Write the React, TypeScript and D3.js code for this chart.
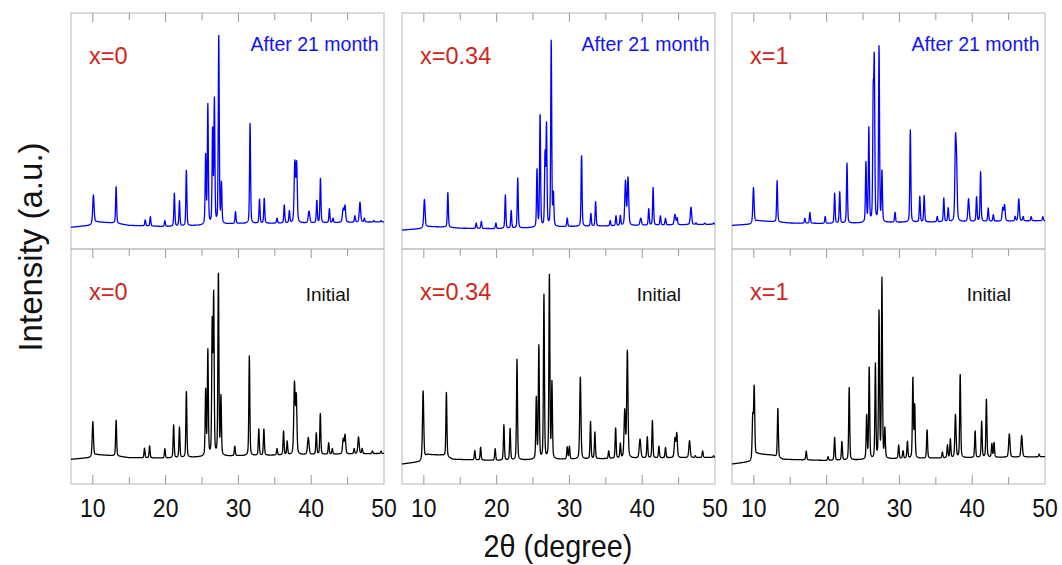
import React from "react";
import * as d3 from "d3";

// ---------- DATA ----------
// Each peak: [2θ position, intensity at top (0..100 panel units), optional FWHM]
const compositions = ["x=0", "x=0.34", "x=1"];
const topLabel = "After 21 month";
const bottomLabel = "Initial";
const xTicksMajor = [10, 20, 30, 40, 50];
const xTicksMinor = [15, 25, 35, 45];
const xDomain: [number, number] = [7, 50];

const peaksX0After: number[][] = [
  [10.08, 22.9, 0.22], [13.2, 26.4], [17.2, 12.3], [17.9, 13.7], [19.9, 12],
  [21.2, 23.6], [21.9, 20.3], [22.85, 33.5], [25.5, 39.1], [25.8, 60.6],
  [26.45, 49.7], [26.7, 62.4], [27.3, 89.7], [27.67, 27.4], [29.6, 15.7],
  [31.6, 53.2], [32.9, 21], [33.55, 21.5], [35.3, 13], [36.3, 18.6], [37.0, 16],
  [37.75, 36.3, 0.22], [38.0, 35.5, 0.2], [39.7, 16, 0.25], [40.77, 20.5], [41.27, 30],
  [42.5, 17], [43.0, 13], [44.4, 17, 0.25], [44.65, 18, 0.2], [46.0, 14],
  [46.7, 19.8, 0.22], [47.3, 13], [48.6, 12], [49.6, 12],
];
const baseX0After: number[][] = [
  [7, 9.2], [9.5, 10], [10.5, 11.5], [13, 11], [15, 10], [20, 9.5], [25, 10], [30, 10.8], [40, 11], [50, 11.5],
];

const peaksX0Init: number[][] = [
  [10.0, 26.5, 0.2], [13.2, 27.2], [17.1, 15.2], [17.8, 16.2], [19.9, 15],
  [21.1, 25.1], [21.9, 24.1], [22.85, 39.6], [25.5, 39.4], [25.8, 56.3],
  [26.4, 66.9], [26.6, 78.7], [27.25, 89.6], [27.6, 36.5], [29.5, 16],
  [31.5, 54.5], [32.8, 23.3], [33.5, 23.3], [35.3, 15], [36.2, 22.4], [36.7, 18],
  [37.7, 42.4, 0.22], [37.95, 36.5, 0.2], [39.6, 19.7, 0.25], [40.7, 21.6], [41.25, 30],
  [42.4, 17.5], [42.9, 15], [44.4, 19, 0.22], [44.65, 20.7, 0.2], [45.9, 15],
  [46.5, 20, 0.22], [47.0, 15], [48.4, 14], [49.6, 14],
];
const baseX0Init: number[][] = [
  [7, 10.5], [9.5, 11.2], [10.5, 12.5], [13, 12], [15, 11.2], [20, 11], [25, 11.5], [30, 12], [40, 12.5], [50, 13],
];

const peaksX034After: number[][] = [
  [10.08, 21, 0.22], [13.3, 23.9], [17.2, 11], [17.9, 11.7], [19.9, 11],
  [21.2, 22.9], [22.0, 16.2], [22.9, 30], [25.55, 33.5], [25.97, 56.8],
  [26.65, 39], [26.85, 51.8], [27.5, 87.8], [27.8, 22.5], [29.7, 13],
  [31.67, 39.8], [32.95, 15], [33.6, 20], [35.6, 12], [36.4, 14], [37.0, 14],
  [37.7, 28.5, 0.22], [38.05, 30, 0.22], [39.8, 13, 0.25], [40.9, 17], [41.5, 26],
  [42.5, 14], [43.2, 13], [44.5, 14.6, 0.25], [44.8, 13], [46.7, 17.7, 0.22],
  [47.4, 11], [48.6, 11], [49.8, 11],
];
const baseX034After: number[][] = [
  [7, 8.0], [9.5, 8.6], [10.5, 9.5], [13, 9.3], [15, 8.8], [20, 8.6], [25, 9], [30, 9.5], [40, 10], [50, 10.5],
];

const peaksX034Init: number[][] = [
  [9.9, 39.6, 0.2], [13.1, 39], [17.0, 14.2], [17.8, 15.6], [19.8, 15],
  [21.0, 25.1], [21.85, 23.6], [22.8, 53], [25.45, 36.5], [25.8, 58.4],
  [26.5, 80.1], [27.25, 89.2], [27.6, 42.5], [29.7, 15.6], [30.0, 15.9],
  [31.5, 45.4, 0.2], [32.9, 26.5], [33.5, 22], [35.4, 14], [36.35, 23.8], [37.0, 17],
  [37.6, 30.8, 0.22], [37.96, 56.3, 0.2], [39.7, 19, 0.25], [40.7, 20], [41.4, 27],
  [42.3, 16], [43.2, 15.5], [44.5, 19.2, 0.22], [44.75, 21.3, 0.2], [46.5, 18.4, 0.22],
  [47.3, 12], [48.3, 14], [49.8, 12],
];
const baseX034Init: number[][] = [
  [7, 8.5], [9.5, 9.5], [10.5, 12.5], [12.5, 12.3], [14, 10.5], [20, 10], [25, 10.3], [30, 10.5], [40, 11], [50, 11.3],
];

const peaksX1After: number[][] = [
  [9.95, 26.1, 0.2], [13.2, 28.9], [17.0, 13], [17.7, 15.5], [19.8, 13.7],
  [21.1, 23.6], [21.8, 24.2], [22.8, 36.3], [25.4, 36.3], [25.8, 50.8],
  [26.4, 61], [26.55, 75.4], [27.2, 85.3], [27.6, 32.3], [29.4, 15.5],
  [31.5, 50.4], [32.8, 22.2], [33.4, 22.6], [35.2, 13.7], [36.1, 21.5], [36.7, 17.3],
  [37.7, 43.1, 0.2], [37.85, 33, 0.2], [39.5, 21.2, 0.22], [40.6, 22], [41.15, 32.8],
  [42.2, 17.3], [42.9, 14.5], [44.2, 17.3, 0.22], [44.45, 18.4, 0.2], [45.9, 13.7],
  [46.4, 21.2, 0.2], [47.0, 13.7], [48.1, 13.7], [49.7, 13.7],
];
const baseX1After: number[][] = [
  [7, 10], [9.5, 10.5], [10.5, 12], [13, 11.5], [15, 11], [20, 10.8], [25, 11], [30, 11.3], [40, 11.6], [50, 12],
];

const peaksX1Init: number[][] = [
  [9.85, 28, 0.18], [10.05, 40.7, 0.18], [13.3, 32.2], [17.2, 14], [20.2, 11.6],
  [21.1, 19.8], [22.1, 18], [23.1, 41], [25.5, 28.8], [25.85, 49.6],
  [26.7, 50.6], [27.2, 72.6], [27.6, 86.8], [28.0, 23], [29.9, 16.5],
  [30.5, 14], [31.1, 18], [31.85, 45], [32.1, 33], [33.8, 23], [35.9, 13.5],
  [36.6, 16.5], [37.0, 19], [37.7, 29.4, 0.2], [38.35, 46.8], [40.4, 22.5],
  [41.3, 26.5], [41.95, 36.2], [42.7, 17], [43.0, 17.5], [45.1, 21.3, 0.22],
  [46.8, 20.6, 0.22], [49.2, 12.7],
];
const baseX1Init: number[][] = [
  [7, 8.5], [9.5, 9.5], [10.5, 12.8], [12.5, 12.3], [14, 10.5], [20, 10], [25, 10.3], [30, 10.8], [40, 11.2], [50, 11.6],
];

const afterPeaks = [peaksX0After, peaksX034After, peaksX1After];
const afterBases = [baseX0After, baseX034After, baseX1After];
const initPeaks = [peaksX0Init, peaksX034Init, peaksX1Init];
const initBases = [baseX0Init, baseX034Init, baseX1Init];

// ---------- LAYOUT ----------
const W = 1062;
const H = 565;
const colLeft = [71, 402, 732];
const colWidth = 313;
const yTop = 13;
const yMid = 249;
const yBot = 484;

const FONT = "Liberation Sans, Arial, Helvetica, sans-serif";
const RED = "#d0261a";
const BLUE = "#1414f0";

function buildProfile(peaks: number[][], base: number[][]): [number, number][] {
  const bx = base.map((b) => b[0]);
  const by = base.map((b) => b[1]);
  const baseScale = d3.scaleLinear().domain(bx).range(by).clamp(true);
  const pts: [number, number][] = [];
  const step = 0.02;
  const n = Math.round((xDomain[1] - xDomain[0]) / step);
  for (let i = 0; i <= n; i++) {
    const t = xDomain[0] + i * step;
    let v = baseScale(t);
    for (const p of peaks) {
      const pos = p[0];
      const w = p[2] ?? 0.16;
      const amp = p[1] - baseScale(pos);
      const dx = (t - pos) / (w / 2);
      const lor = 1 / (1 + dx * dx);
      const gau = Math.exp(-Math.LN2 * dx * dx);
      v += amp * (0.35 * lor + 0.65 * gau);
    }
    pts.push([t, v]);
  }
  return pts;
}

function Panel({ col, row }: { col: number; row: number }) {
  const left = colLeft[col];
  const right = left + colWidth;
  const top = row === 0 ? yTop : yMid;
  const bottom = row === 0 ? yMid : yBot;
  const x = d3.scaleLinear().domain(xDomain).range([left, right]);
  const y = d3.scaleLinear().domain([0, 100]).range([bottom, top]);
  const peaks = row === 0 ? afterPeaks[col] : initPeaks[col];
  const base = row === 0 ? afterBases[col] : initBases[col];
  const data = buildProfile(peaks, base);
  const line = d3
    .line<[number, number]>()
    .x((d) => x(d[0]))
    .y((d) => y(d[1]));
  const color = row === 0 ? "#0000ff" : "#000000";
  return (
    <g>
      <path d={line(data) ?? ""} fill="none" stroke={color} strokeWidth={1.3} strokeLinejoin="round" />
      {xTicksMajor.slice(0, 4).map((t) => (
        <line key={"M" + t} x1={x(t)} x2={x(t)} y1={top} y2={top + 9} stroke="#999" strokeWidth={1} />
      ))}
      {xTicksMinor.map((t) => (
        <line key={"m" + t} x1={x(t)} x2={x(t)} y1={top} y2={top + 7} stroke="#999" strokeWidth={1} />
      ))}
      {row === 1 &&
        xTicksMajor.slice(0, 4).map((t) => (
          <line key={"B" + t} x1={x(t)} x2={x(t)} y1={bottom} y2={bottom - 9} stroke="#999" strokeWidth={1} />
        ))}
      {row === 1 &&
        xTicksMinor.map((t) => (
          <line key={"b" + t} x1={x(t)} x2={x(t)} y1={bottom} y2={bottom - 7} stroke="#999" strokeWidth={1} />
        ))}
      {row === 1 &&
        xTicksMajor.map((t) => (
          <text
            key={"L" + t}
            transform={`translate(${x(t)},517) scale(0.9,1)`}
            textAnchor="middle"
            fontFamily={FONT}
            fontSize={25.5}
            fill="#111"
          >
            {t}
          </text>
        ))}
      <text x={left + 18} y={row === 0 ? 64 : 300} fontFamily={FONT} fontSize={23.5} fill={RED}>
        {compositions[col]}
      </text>
      {row === 0 ? (
        <text x={right - 5.5} y={50.5} textAnchor="end" fontFamily={FONT} fontSize={19.5} fill={BLUE}>
          {topLabel}
        </text>
      ) : (
        <text x={right - 34} y={300.5} textAnchor="end" fontFamily={FONT} fontSize={19} fill="#111">
          {bottomLabel}
        </text>
      )}
    </g>
  );
}

export default function App() {
  return (
    <svg
      width={W}
      height={H}
      viewBox={`0 0 ${W} ${H}`}
      style={{ position: "absolute", left: 0, top: 0, background: "#fff" }}
    >
      <rect x={0} y={0} width={W} height={H} fill="#fff" />
      {colLeft.map((l, i) => (
        <g key={"f" + i}>
          <rect x={l} y={yTop} width={colWidth} height={yBot - yTop} fill="none" stroke="#c4c4c4" strokeWidth={1.2} />
          <line x1={l} x2={l + colWidth} y1={yMid} y2={yMid} stroke="#9a9a9a" strokeWidth={1.2} />
        </g>
      ))}
      {[0, 1, 2].map((c) => (
        <g key={"p" + c}>
          <Panel col={c} row={0} />
          <Panel col={c} row={1} />
        </g>
      ))}
      <text
        transform="translate(558,557) scale(0.9,1)"
        textAnchor="middle"
        fontFamily={FONT}
        fontSize={32}
        fill="#111"
      >
        2θ (degree)
      </text>
      <text
        transform="translate(42,247) rotate(-90)"
        textAnchor="middle"
        fontFamily={FONT}
        fontSize={33}
        fill="#111"
      >
        Intensity (a.u.)
      </text>
    </svg>
  );
}
